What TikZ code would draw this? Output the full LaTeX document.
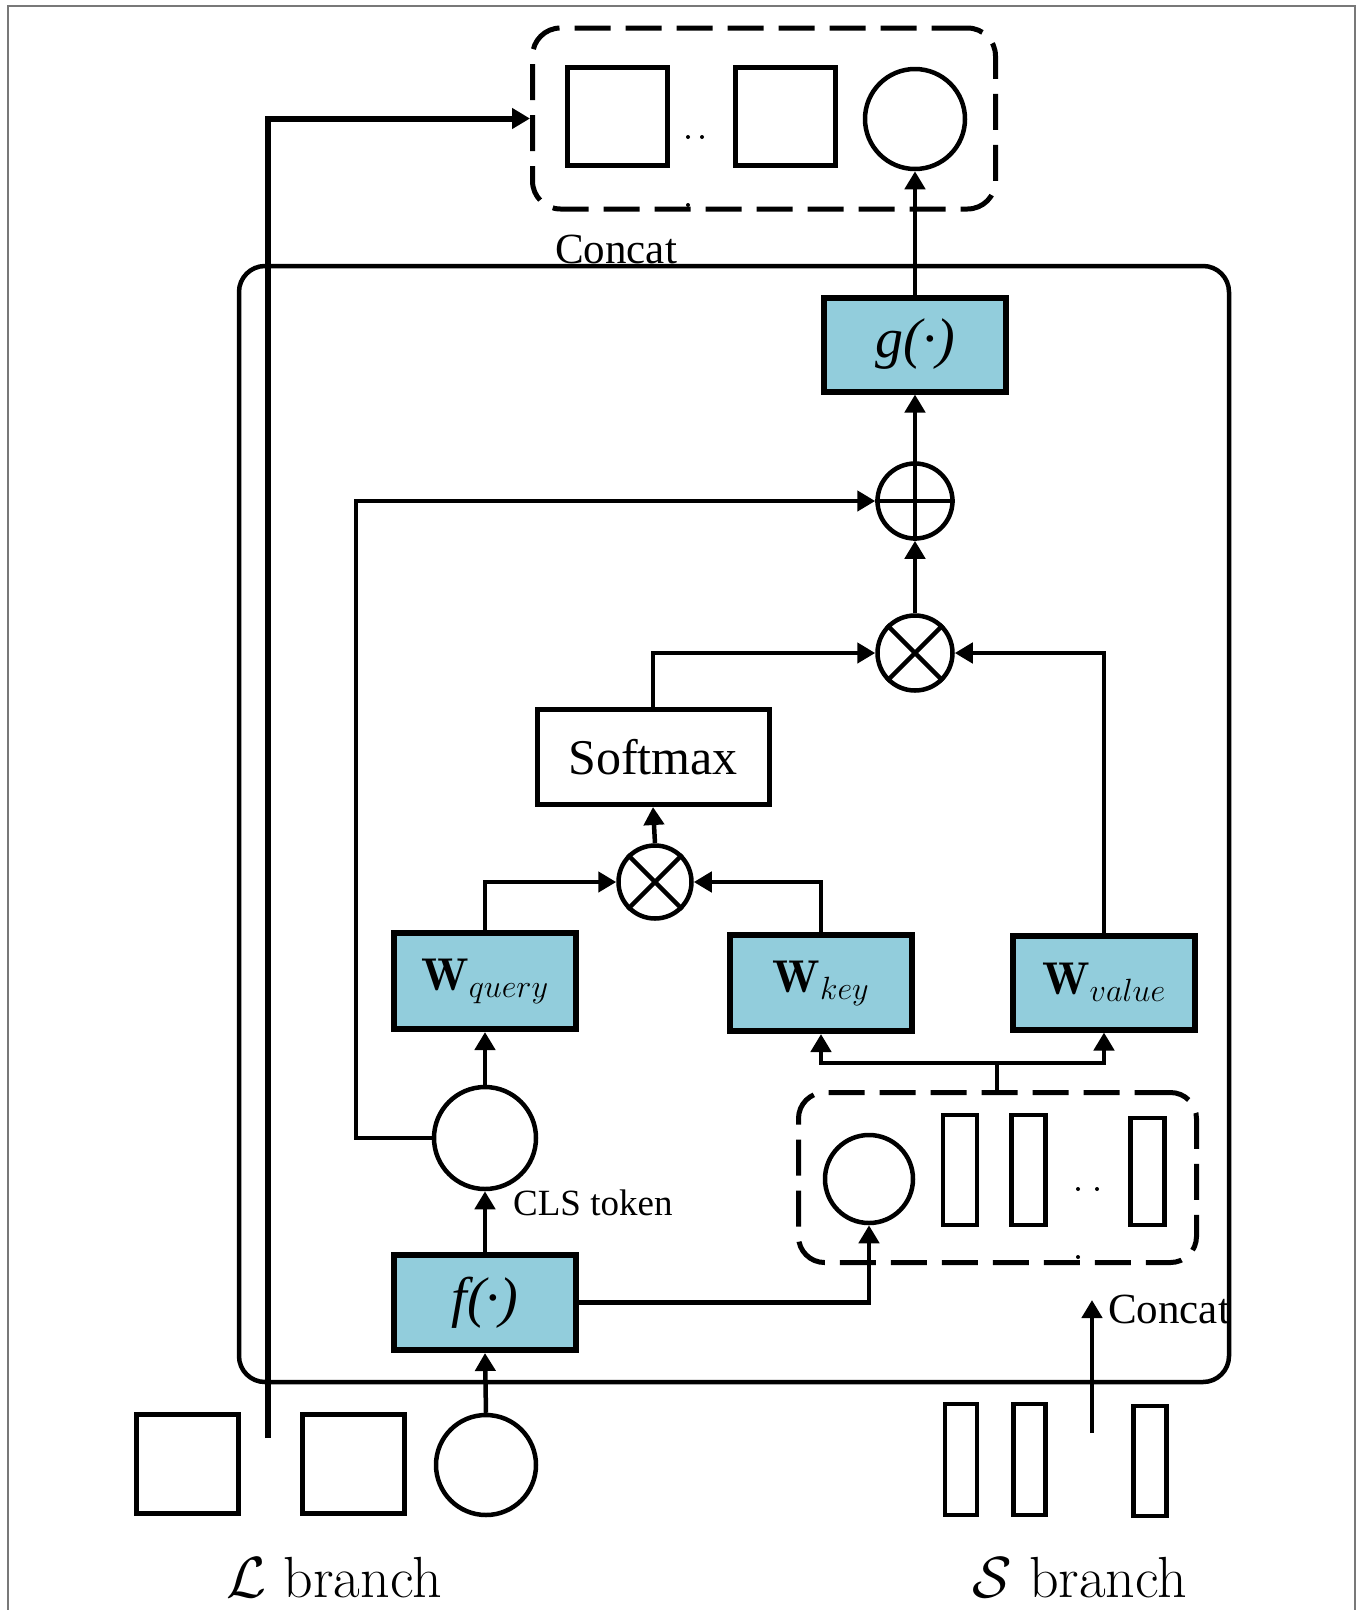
\documentclass[tikz,border=0pt]{standalone}
\usepackage{fix-cm}
\usepackage{fontspec}
\newfontfamily\tnr{Liberation Serif}
\usetikzlibrary{arrows.meta,shapes.geometric}
\definecolor{boxblue}{RGB}{146,205,220}
\definecolor{framegray}{RGB}{120,120,120}
\begin{document}
\begin{tikzpicture}[x=1pt,y=-1pt,
  arr/.style={line width=4.5pt,-{Triangle[length=18pt,width=20pt]}},
  plain/.style={line width=4.5pt},
  bluebox/.style={draw,fill=boxblue,line width=6pt,inner sep=0pt,minimum width=182pt,minimum height=95pt},
  whitebox/.style={draw,line width=5pt,inner sep=0pt},
  token/.style={draw,line width=4.5pt,circle,inner sep=0pt,minimum size=100pt},
  opcirc/.style={draw,line width=4.5pt,circle,inner sep=0pt,minimum size=75pt},
  dbox/.style={draw,line width=5pt,dash pattern=on 36pt off 15pt,rounded corners=28pt,inner sep=0pt},
  tlabel/.style={inner sep=0pt,anchor=base west}
]
\useasboundingbox (0,0) rectangle (1363,1610);
% outer frame
\draw[framegray,line width=2pt] (8,1612) -- (8,6) -- (1355,6) -- (1355,1612);

% big rounded box
\node[draw,line width=4.5pt,rounded corners=26pt,inner sep=0pt,minimum width=990pt,minimum height=1116pt] (big) at (734,824) {};

% top concat box
\node[dbox,minimum width=463pt,minimum height=181pt] (tb) at (764,118.5) {};
\node[whitebox,minimum width=100pt,minimum height=98pt] (tsq1) at (617.5,116.5) {};
\node[whitebox,minimum width=100pt,minimum height=98pt] (tsq2) at (785,116.5) {};
\node[token] (tc) at (915,119) {};
\fill (688,137) circle (2pt) (702,137) circle (2pt) (688,205) circle (2pt);
\node[tlabel] (concat1) at (555,263) {\tnr\fontsize{43}{43}\selectfont Concat};

% g box
\node[bluebox,minimum height=94pt] (g) at (915,344.5) {\tnr\itshape\fontsize{56}{56}\selectfont g(·)};
% oplus
\node[opcirc] (op) at (915,501) {};
\draw[line width=4.5pt] (op.north) -- (op.south) (op.west) -- (op.east);
% otimes top
\node[opcirc] (ot1) at (915,653) {};
\draw[line width=4.5pt] (ot1.north east) -- (ot1.south west) (ot1.north west) -- (ot1.south east);

% softmax
\node[whitebox,minimum width=232pt,minimum height=95pt] (sm) at (653,757) {\tnr\fontsize{50}{50}\selectfont Softmax};
% otimes bottom
\node[opcirc,minimum size=73pt] (ot2) at (655,882) {};
\draw[line width=4.5pt] (ot2.north east) -- (ot2.south west) (ot2.north west) -- (ot2.south east);

% W boxes
\node[bluebox,minimum height=96pt] (wq) at (485,981) {\fontsize{46}{46}\selectfont$\mathbf{W}_{query}$};
\node[bluebox,minimum height=96pt] (wk) at (821,983) {\fontsize{46}{46}\selectfont$\mathbf{W}_{key}$};
\node[bluebox,minimum height=94pt] (wv) at (1104,982.5) {\fontsize{46}{46}\selectfont$\mathbf{W}_{value}$};

% CLS token
\node[token,minimum size=102pt] (cls) at (485,1138) {};
\node[tlabel] (clslab) at (513,1215) {\tnr\fontsize{37}{37}\selectfont CLS token};

% f box
\node[bluebox] (f) at (485,1302.5) {\tnr\itshape\fontsize{56}{56}\selectfont f(·)};

% bottom concat box
\node[dbox,minimum width=398pt,minimum height=170pt,rounded corners=26pt] (db) at (997.5,1177.5) {};
\node[token,minimum size=88pt] (dc) at (869,1179) {};
\node[whitebox,line width=4.5pt,minimum width=34pt,minimum height=110pt] (dr1) at (960,1170) {};
\node[whitebox,line width=4.5pt,minimum width=34pt,minimum height=110pt] (dr2) at (1028.5,1170) {};
\node[whitebox,line width=4.5pt,minimum width=34pt,minimum height=107pt] (dr3) at (1147.5,1171.5) {};
\fill (1078,1189) circle (2pt) (1097,1189) circle (2pt) (1078,1257) circle (2pt);
\node[tlabel] (concat2) at (1108,1323) {\tnr\fontsize{43}{43}\selectfont Concat};

% bottom L branch
\node[whitebox,minimum width=102pt,minimum height=99pt] (lsq1) at (187.5,1464) {};
\node[whitebox,minimum width=102pt,minimum height=99pt] (lsq2) at (353.5,1464) {};
\node[token] (bc) at (486,1465) {};
\node[tlabel] (llab) at (226,1597) {\fontsize{58}{58}\selectfont$\mathcal{L}$ branch};

% bottom S branch
\node[whitebox,line width=4.5pt,minimum width=32pt,minimum height=111pt] (sr1) at (961,1459.5) {};
\node[whitebox,line width=4.5pt,minimum width=32pt,minimum height=111pt] (sr2) at (1029.5,1459.5) {};
\node[whitebox,line width=4.5pt,minimum width=33pt,minimum height=110pt] (sr3) at (1150,1461) {};
\node[tlabel] (slab) at (972,1597) {\fontsize{58}{58}\selectfont$\mathcal{S}$ branch};

% coordinates
\coordinate (lstart) at (268,1438);
\coordinate (split) at (997,1063);
\coordinate (cstart) at (1092,1433);
\coordinate (cend) at (1092,1300);

% connectors
\draw[arr,line width=6pt] (lstart) |- (tb.west);
\draw[arr] (g.north) -- (tc.south);
\draw[arr] (op.north) -- (g.south);
\draw[arr] (ot1.north) -- (op.south);
\draw[arr] (sm.north) |- (ot1.west);
\draw[arr] (wv.north) |- (ot1.east);
\draw[arr] (ot2.north) -- (sm.south);
\draw[arr] (wq.north) |- (ot2.west);
\draw[arr] (wk.north) |- (ot2.east);
\draw[arr] (cls.north) -- (wq.south);
\draw[arr] (cls.west) -- ++(-76,0) |- (op.west);
\draw[arr] (f.north) -- (cls.south);
\draw[arr] (bc.north) -- (f.south);
\draw[arr] (f.east) -| (dc.south);
\draw[plain] (db.north -| split) -- (split);
\draw[arr] (split) -| (wk.south);
\draw[arr] (split) -| (wv.south);
\draw[arr] (cstart) -- (cend);
\end{tikzpicture}
\end{document}
